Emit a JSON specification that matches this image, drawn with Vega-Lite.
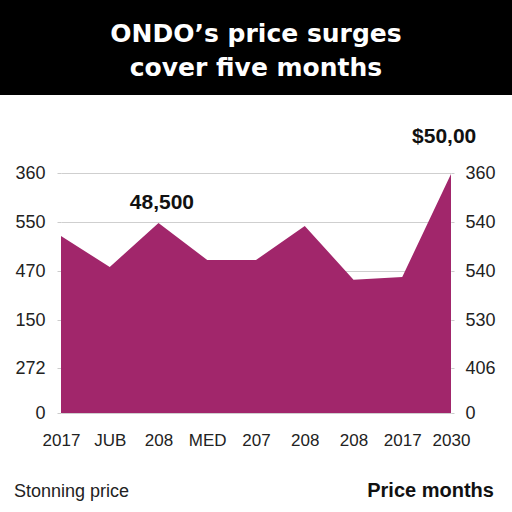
{
  "$schema": "https://vega.github.io/schema/vega-lite/v6.json",
  "padding": 0,
  "background": "white",
  "spacing": 78,
  "bounds": "flush",
  "center": true,
  "config": {"view": {"stroke": null}, "font": "Liberation Sans"},
  "datasets": {
    "series": [
      {"i": 0, "v": 265.5},
      {"i": 1, "v": 219},
      {"i": 2, "v": 285},
      {"i": 3, "v": 229.5},
      {"i": 4, "v": 229.5},
      {"i": 5, "v": 280.5},
      {"i": 6, "v": 200},
      {"i": 7, "v": 204},
      {"i": 8, "v": 358.5}
    ],
    "notes": [
      {"i": 2.07, "v": 315, "t": "48,500"},
      {"i": 7.86, "v": 414, "t": "$50,00"}
    ],
    "footLeft": [{"i": -0.964, "v": -126, "t": "Stonning price"}],
    "footRight": [{"i": 8.88, "v": -126, "t": "Price months"}],
    "head": [{"t": "ONDO’s price surges\ncover five months"}]
  },
  "vconcat": [
    {
      "width": 512,
      "height": 95,
      "view": {"fill": "black", "stroke": null},
      "data": {"name": "head"},
      "mark": {"type": "text", "lineBreak": "\n", "font": "DejaVu Sans", "fontWeight": "bold", "fontSize": 25, "color": "white", "align": "center", "baseline": "alphabetic", "lineHeight": 34, "dy": -5.5},
      "encoding": {"text": {"field": "t"}}
    },
    {
      "width": 390,
      "height": 240,
      "layer": [
        {
          "data": {"name": "series"},
          "mark": {"type": "area", "color": "#a1266b", "opacity": 1},
          "encoding": {
            "x": {"field": "i", "type": "quantitative", "scale": {"domain": [0, 8], "nice": false},
              "axis": {"title": null, "values": [0,1,2,3,4,5,6,7,8], "labelExpr": "['2017','JUB','208','MED','207','208','208','2017','2030'][datum.value]", "labelOverlap": false, "labelFlush": false, "domain": false, "ticks": false, "grid": false, "labelPadding": 19, "labelFontSize": 17, "labelColor": "#222", "labelFont": "Liberation Sans"}},
            "y": {"field": "v", "type": "quantitative", "scale": {"domain": [0, 360], "nice": false},
              "axis": {"orient": "left", "title": null, "values": [0, 67.5, 139.5, 213, 286.5, 360], "labelExpr": "datum.value==360?'360':datum.value>280?'550':datum.value>200?'470':datum.value>100?'150':datum.value>50?'272':'0'", "labelOverlap": false, "domain": false, "ticks": true, "tickSize": 4, "tickColor": "#cccccc", "grid": true, "gridColor": "#cfcfcf", "labelPadding": 12, "labelFontSize": 18, "labelColor": "#222", "labelFont": "Liberation Sans"}}
          }
        },
        {
          "data": {"name": "notes"},
          "mark": {"type": "text", "font": "Liberation Sans", "fontWeight": "bold", "fontSize": 21, "baseline": "middle", "align": "center", "color": "#111"},
          "encoding": {
            "x": {"field": "i", "type": "quantitative"},
            "y": {"field": "v", "type": "quantitative",
              "axis": {"orient": "right", "title": null, "values": [0, 67.5, 139.5, 213, 286.5, 360], "labelExpr": "datum.value==360?'360':datum.value>280?'540':datum.value>200?'540':datum.value>100?'530':datum.value>50?'406':'0'", "labelOverlap": false, "domain": false, "ticks": true, "tickSize": 3, "tickColor": "#cccccc", "grid": false, "labelPadding": 11, "labelFontSize": 18, "labelColor": "#222", "labelFont": "Liberation Sans"}},
            "text": {"field": "t"}
          }
        },
        {
          "data": {"name": "footLeft"},
          "mark": {"type": "text", "font": "Liberation Sans", "fontSize": 18, "baseline": "alphabetic", "align": "left", "color": "#222"},
          "encoding": {
            "x": {"field": "i", "type": "quantitative"},
            "y": {"field": "v", "type": "quantitative", "axis": null},
            "text": {"field": "t"}
          }
        },
        {
          "data": {"name": "footRight"},
          "mark": {"type": "text", "font": "Liberation Sans", "fontWeight": "bold", "fontSize": 20, "baseline": "alphabetic", "align": "right", "color": "#111"},
          "encoding": {
            "x": {"field": "i", "type": "quantitative"},
            "y": {"field": "v", "type": "quantitative", "axis": null},
            "text": {"field": "t"}
          }
        }
      ],
      "resolve": {"axis": {"y": "independent"}}
    }
  ]
}
